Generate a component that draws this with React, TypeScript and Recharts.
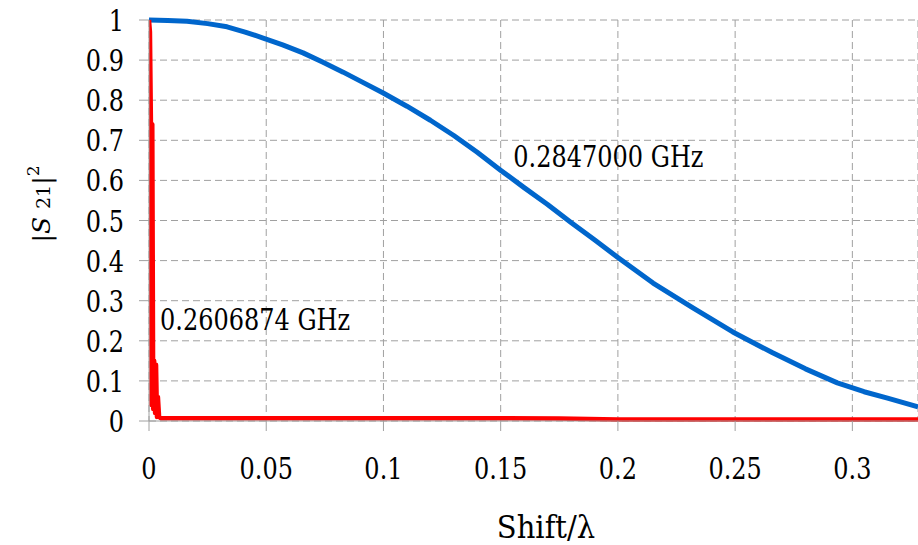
import React from 'react';
import { LineChart, Line, XAxis, YAxis, CartesianGrid, ReferenceDot } from 'recharts';

// Shift/λ values and |S21|^2
const blueX = [0, 0.008, 0.0162, 0.025, 0.0333, 0.041, 0.0487, 0.057, 0.0657, 0.074, 0.0828, 0.091, 0.0999, 0.11, 0.12, 0.13, 0.14, 0.1498, 0.16, 0.17, 0.18, 0.19, 0.1997, 0.215, 0.232, 0.249, 0.266, 0.28, 0.2936, 0.305, 0.315, 0.328];
const blueY = [1.0, 0.999, 0.997, 0.991, 0.983, 0.97, 0.955, 0.938, 0.918, 0.895, 0.87, 0.845, 0.818, 0.785, 0.75, 0.712, 0.67, 0.626, 0.582, 0.54, 0.495, 0.452, 0.409, 0.344, 0.282, 0.222, 0.17, 0.13, 0.095, 0.073, 0.057, 0.035];

const redX = [0, 0.0004, 0.0008, 0.0011, 0.0014, 0.0018, 0.0022, 0.0026, 0.003, 0.0034, 0.0038, 0.0043, 0.005, 0.05, 0.1, 0.15, 0.175, 0.2, 0.25, 0.3, 0.328];
const redY = [1.0, 0.97, 0.75, 0.04, 0.74, 0.03, 0.15, 0.02, 0.14, 0.01, 0.06, 0.01, 0.007, 0.007, 0.007, 0.007, 0.006, 0.004, 0.004, 0.004, 0.004];

const xTicks = [0, 0.05, 0.1, 0.15, 0.2, 0.25, 0.3];
const yTicks = [0, 0.1, 0.2, 0.3, 0.4, 0.5, 0.6, 0.7, 0.8, 0.9, 1];

const blueLabel = '0.2847000 GHz';
const redLabel = '0.2606874 GHz';

const blueData = blueX.map((x, i) => ({ x, y: blueY[i] }));
const redData = redX.map((x, i) => ({ x, y: redY[i] }));

// only DejaVu Serif resolves as a serif face here
const TXT = { fontFamily: "'DejaVu Serif'", fill: '#000' };
const GRID = '#a0a0a0';

// serif text, stretched a little upward like the Times glyphs in the original
const Serif = ({ x, y, size, anchor, sy = 1.22, children }: any) => (
  <text transform={`translate(${x},${y}) scale(1,${sy})`} x={0} y={0} fontSize={size} textAnchor={anchor} style={TXT}>
    {children}
  </text>
);

const YTick = ({ x, y, payload }: any) => (
  <Serif x={x} y={y + 11} size={24} anchor="end">{payload.value}</Serif>
);

const XTick = ({ x, y, payload }: any) => (
  <Serif x={x} y={y + 48} size={24} anchor="middle">{payload.value}</Serif>
);

const note = (text: string) => (props: any) => (
  <Serif x={props.cx} y={props.cy} size={24} anchor="start">{text}</Serif>
);

export default function App() {
  return (
    <div style={{ position: 'absolute', left: 0, top: 0, background: '#fff' }}>
      <LineChart width={918} height={545} margin={{ top: 20, right: 0, bottom: 44, left: 69 }}>
        <CartesianGrid stroke={GRID} strokeDasharray="7 4" />
        <XAxis
          type="number"
          dataKey="x"
          domain={[0, 0.328]}
          ticks={xTicks}
          allowDataOverflow
          height={80}
          tickSize={10}
          tickMargin={0}
          stroke={GRID}
          tick={<XTick />}
          label={{
            content: () => (
              <Serif x={546} y={538} size={29} anchor="middle" sy={1.1}>Shift/λ</Serif>
            ),
          }}
        />
        <YAxis
          type="number"
          dataKey="y"
          domain={[0, 1]}
          ticks={yTicks}
          width={80}
          tickSize={10}
          tickMargin={15}
          stroke={GRID}
          tick={<YTick />}
          label={{
            content: () => (
              <text x={50} y={204} transform="rotate(-90, 50, 204)" textAnchor="middle" fontSize={25} style={TXT}>
                |<tspan fontStyle="italic">S</tspan> <tspan fontSize={19}>21</tspan>|<tspan fontSize={17} dy={-11}>2</tspan>
              </text>
            ),
          }}
        />
        <Line data={blueData} dataKey="y" type="linear" stroke="#0066cc" strokeWidth={5} strokeLinejoin="round" dot={false} isAnimationActive={false} />
        <Line data={redData} dataKey="y" type="linear" stroke="#ff0000" strokeWidth={4.5} strokeLinejoin="round" dot={false} isAnimationActive={false} />
        <ReferenceDot x={0.1554} y={0.633} r={0} ifOverflow="visible" shape={note(blueLabel)} />
        <ReferenceDot x={0.0047} y={0.226} r={0} ifOverflow="visible" shape={note(redLabel)} />
      </LineChart>
    </div>
  );
}
